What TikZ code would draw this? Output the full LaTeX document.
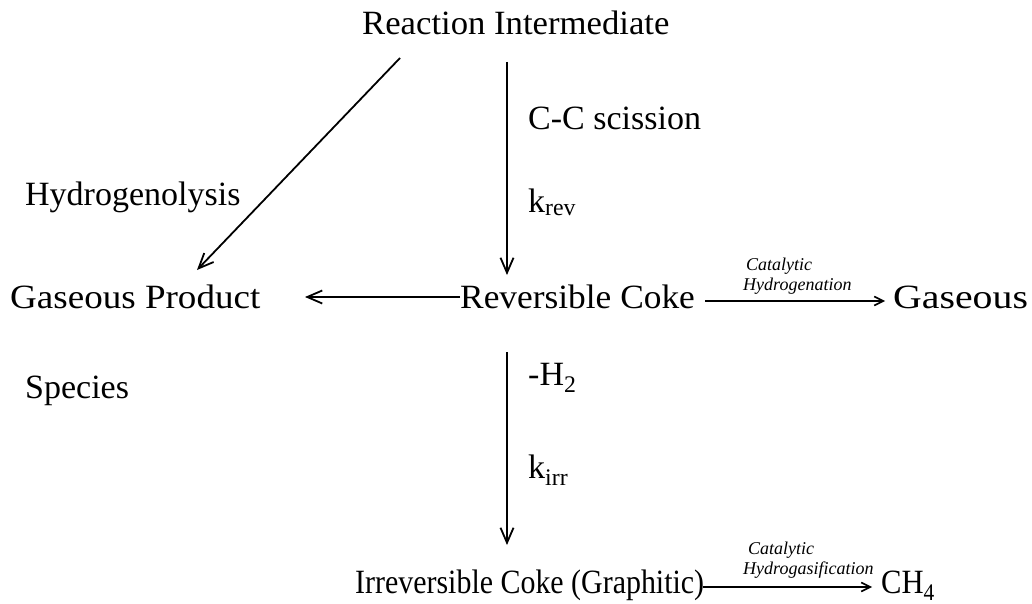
\documentclass[tikz,border=0pt]{standalone}
\usepackage{fontspec}
\setmainfont{Liberation Serif}
\usetikzlibrary{arrows.meta}
\begin{document}
\begin{tikzpicture}[x=1pt,y=-1pt,
  every node/.style={inner sep=0pt},
  big/.style={font=\fontsize{34}{40}\selectfont, anchor=base west},
  small/.style={font=\fontsize{18}{21}\selectfont\itshape, anchor=base west},
  arr/.style={line width=1.8pt, -{Straight Barb[length=15pt,width=13pt,line width=1.8pt]}},
  thinarr/.style={line width=1.6pt, -{Straight Barb[length=9pt,width=9pt,line width=1.6pt]}}]
\useasboundingbox (0,0) rectangle (1032,604);
\node[big] (ri) at (362,35) {\scalebox{1.02}[1]{Reaction Intermediate}};
\node[big] (hy) at (25,205) {Hydrogenolysis};
\node[big] (gp) at (10,308) {\scalebox{1.09}[1]{Gaseous Product}};
\node[big] (rc) at (460,308) {\scalebox{1.04}[1]{Reversible Coke}};
\node[big] (ga) at (893,308) {\scalebox{1.17}[1]{Gaseous}};
\node[big] (sp) at (25,398) {Species};
\node[big] (ic) at (355,593) {\scalebox{0.88}[1]{Irreversible Coke (Graphitic)}};
\node[big] (ch) at (881,593) {\scalebox{0.9}[1]{CH\textsubscript{4}}};
\node[big] (cc) at (528,130) {C-C scission};
\node[big] (kr) at (528,212) {k\textsubscript{rev}};
\node[big] (h2) at (528,385) {-H\textsubscript{2}};
\node[big] (ki) at (528,478) {k\textsubscript{irr}};
\node[small] (cat1) at (746,270) {Catalytic};
\node[small] (hyd1) at (743,290) {Hydrogenation};
\node[small] (cat2) at (748,554) {Catalytic};
\node[small] (hyd2) at (743,574) {Hydrogasification};
\coordinate (d1) at (400,58);
\coordinate (d2) at (197,270);
\coordinate (v1a) at (507,62);
\coordinate (v1b) at (507,275);
\coordinate (v2a) at (507,352);
\coordinate (v2b) at (507,545);
\coordinate (ha) at (460,297);
\coordinate (hb) at (305,297);
\coordinate (ra) at (705,301);
\coordinate (rb) at (885,301);
\coordinate (ia) at (703,587);
\coordinate (ib) at (872,587);
\draw[arr] (d1) -- (d2);
\draw[arr] (v1a) -- (v1b);
\draw[arr] (v2a) -- (v2b);
\draw[arr] (ha) -- (hb);
\draw[thinarr] (ra) -- (rb);
\draw[thinarr] (ia) -- (ib);
\end{tikzpicture}
\end{document}
